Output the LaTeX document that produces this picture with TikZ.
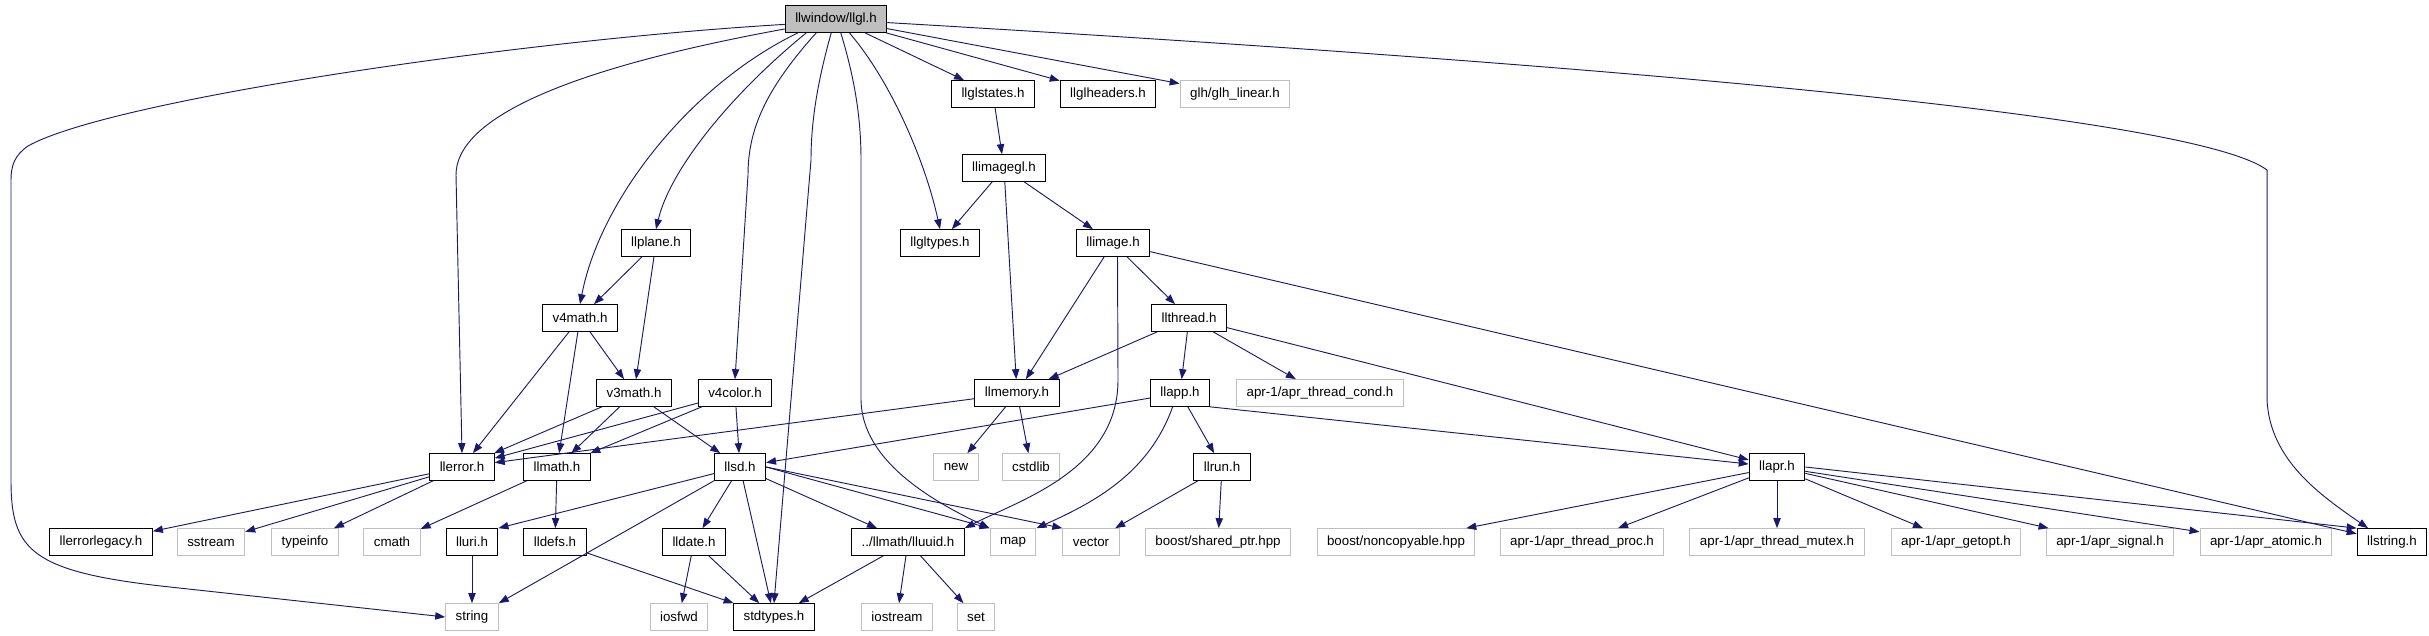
\documentclass[tikz,border=0pt]{standalone}
\usepackage{fontspec}
\setmainfont{Liberation Sans}
\usetikzlibrary{arrows.meta}

\definecolor{edgeblue}{HTML}{191970}
\definecolor{boxgray}{HTML}{BFBFBF}

\tikzset{
  hdr/.style={draw=black, line width=0.75pt, minimum height=20pt,
    inner xsep=7.5pt, inner ysep=0pt, font=\fontsize{10}{12}\selectfont},
  syshdr/.style={hdr, draw=boxgray},
  roothdr/.style={hdr, fill=boxgray},
  inc/.style={draw=edgeblue, line width=0.7pt,
    -{Triangle[length=7.5pt,width=5.5pt]}},
}

\begin{document}
\begin{tikzpicture}[x=0.75pt,y=-0.75pt]
    \useasboundingbox (0,0) rectangle (2429,635);
    % row 1
    \node[roothdr] (llgl) at (836,19) {llwindow/llgl.h};
    % row 2
    \node[hdr] (llglstates) at (993,94) {llglstates.h};
    \node[hdr] (llglheaders) at (1108,94) {llglheaders.h};
    \node[syshdr] (glh) at (1235,94) {glh/glh\_linear.h};
    % row 3
    \node[hdr] (llimagegl) at (1004,168) {llimagegl.h};
    % row 4
    \node[hdr] (llplane) at (656,243) {llplane.h};
    \node[hdr] (llgltypes) at (940,243) {llgltypes.h};
    \node[hdr] (llimage) at (1113,243) {llimage.h};
    % row 5
    \node[hdr] (v4math) at (580,318) {v4math.h};
    \node[hdr] (llthread) at (1189,318) {llthread.h};
    % row 6
    \node[hdr] (v3math) at (634,393) {v3math.h};
    \node[hdr] (v4color) at (735,393) {v4color.h};
    \node[hdr] (llmemory) at (1017,393) {llmemory.h};
    \node[hdr] (llapp) at (1180,393) {llapp.h};
    \node[syshdr] (aprcond) at (1320,393) {apr-1/apr\_thread\_cond.h};
    % row 7
    \node[hdr] (llerror) at (462,467) {llerror.h};
    \node[hdr] (llmath) at (557,467) {llmath.h};
    \node[hdr] (llsd) at (740,467) {llsd.h};
    \node[syshdr] (new) at (956,467) {new};
    \node[syshdr] (cstdlib) at (1031,467) {cstdlib};
    \node[hdr] (llrun) at (1222,467) {llrun.h};
    \node[hdr] (llapr) at (1777,467) {llapr.h};
    % row 8
    \node[hdr] (llerrorlegacy) at (101,542) {llerrorlegacy.h};
    \node[syshdr] (sstream) at (211,542) {sstream};
    \node[syshdr] (typeinfo) at (305,542) {typeinfo};
    \node[syshdr] (cmath) at (392,542) {cmath};
    \node[hdr] (lluri) at (472,542) {lluri.h};
    \node[hdr] (lldefs) at (555,542) {lldefs.h};
    \node[hdr] (lldate) at (694,542) {lldate.h};
    \node[hdr] (lluuid) at (908,542) {../llmath/lluuid.h};
    \node[syshdr] (map) at (1013,542) {map};
    \node[syshdr] (vector) at (1091,542) {vector};
    \node[syshdr] (sharedptr) at (1218,542) {boost/shared\_ptr.hpp};
    \node[syshdr] (noncopyable) at (1396,542) {boost/noncopyable.hpp};
    \node[syshdr] (aprproc) at (1582,542) {apr-1/apr\_thread\_proc.h};
    \node[syshdr] (aprmutex) at (1777,542) {apr-1/apr\_thread\_mutex.h};
    \node[syshdr] (aprgetopt) at (1956,542) {apr-1/apr\_getopt.h};
    \node[syshdr] (aprsignal) at (2110,542) {apr-1/apr\_signal.h};
    \node[syshdr] (apratomic) at (2266,542) {apr-1/apr\_atomic.h};
    \node[hdr] (llstring) at (2392,542) {llstring.h};
    % row 9
    \node[syshdr] (string) at (472,617) {string};
    \node[syshdr] (iosfwd) at (679,617) {iosfwd};
    \node[hdr] (stdtypes) at (774,617) {stdtypes.h};
    \node[syshdr] (iostream) at (897,617) {iostream};
    \node[syshdr] (set) at (976,617) {set};

    % straight includes
    \foreach \a/\b in {llgl/llglstates, llgl/llglheaders, llgl/glh,
        llglstates/llimagegl, llimagegl/llgltypes, llimagegl/llimage,
        llimagegl/llmemory, llimage/llmemory, llimage/llthread,
        llimage/llstring, llthread/llmemory, llthread/llapp,
        llthread/aprcond, llthread/llapr, llplane/v4math, llplane/v3math,
        v4math/llerror, v4math/llmath, v4math/v3math, v3math/llerror,
        v3math/llmath, v3math/llsd, v4color/llerror, v4color/llmath,
        v4color/llsd, llmemory/llerror, llmemory/new, llmemory/cstdlib,
        llapp/llsd, llapp/llrun, llerror/llerrorlegacy, llerror/sstream,
        llerror/typeinfo, llmath/cmath, llmath/lldefs, llsd/lluuid,
        llsd/stdtypes, llsd/lldate, llrun/vector, llrun/sharedptr,
        llapr/noncopyable, llapr/aprproc, llapr/aprmutex, llapr/aprgetopt,
        llapr/aprsignal, llapr/apratomic, lluri/string, lldefs/stdtypes,
        lldate/iosfwd, lldate/stdtypes, lluuid/stdtypes, lluuid/iostream,
        lluuid/set} {
        \draw[inc] (\a) -- (\b);
    }
    \draw[inc] (llsd) -- (lluri.north east);
    \draw[inc] (llsd.south west) -- (string.north east);
    \draw[inc] (llsd.east) -- (map.north west);
    \draw[inc] (llsd.east) -- (vector.north west);
    \draw[inc] (llapp.south east) -- (llapr);
    \draw[inc] (llapr.east) -- (llstring.north west);

    % curved includes from the root
    \draw[inc] (llgl.186) .. controls (520,40) and (110,100) .. (28,146)
        .. controls (15,155) and (11,165) .. (11,180) -- (11,480)
        .. controls (11,550) and (30,572) .. (170,587) -- (string.west);
    \draw[inc] (llgl.191) .. controls (560,70) and (456,120) .. (456,175)
        -- (llerror.north);
    \draw[inc] (llgl.200) .. controls (690,85) and (600,200) .. (v4math.north);
    \draw[inc] (llgl.205) .. controls (730,95) and (670,170) .. (llplane.north);
    \draw[inc] (llgl.215) .. controls (765,90) and (748,130) .. (748,175)
        -- (v4color.north);
    \draw[inc] (llgl.251) .. controls (818,80) and (811,120) .. (811,160)
        -- (stdtypes.north);
    \draw[inc] (llgl.289) .. controls (852,70) and (861,110) .. (861,160)
        -- (861,400) .. controls (862,460) and (930,500) .. (map.north west);
    \draw[inc] (llgl.314) .. controls (890,80) and (925,160) .. (llgltypes.north);
    \draw[inc] (llgl.356) .. controls (1700,70) and (2200,120) .. (2267,170)
        -- (2267,400) .. controls (2270,460) and (2320,495) .. (llstring.150);

    % other curved includes
    \draw[inc] (llimage.288) -- (1118,380) .. controls (1118,470) and (1020,500)
        .. (lluuid.north east);
    \draw[inc] (llapp.242) .. controls (1150,470) and (1100,500) .. (map.north east);
\end{tikzpicture}
\end{document}
